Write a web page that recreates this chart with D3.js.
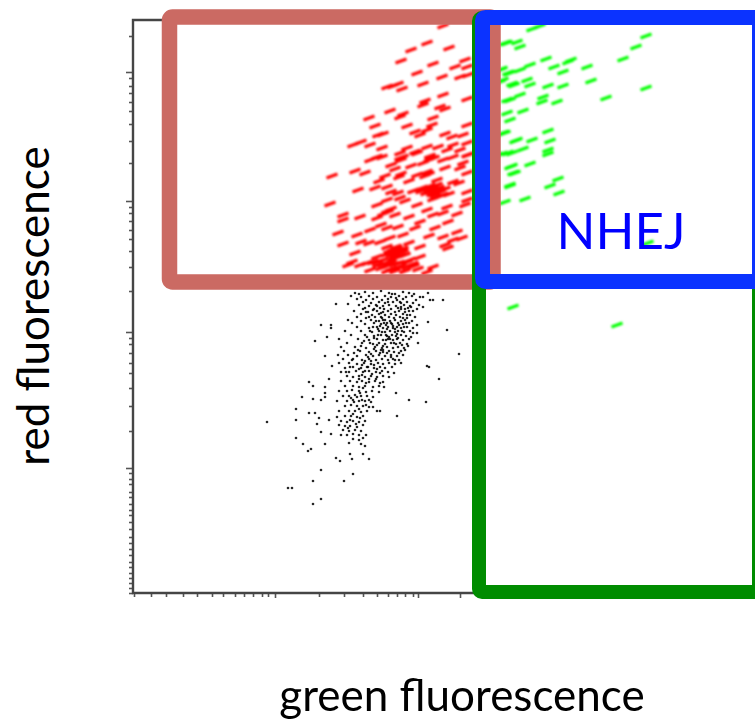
<!DOCTYPE html>
<html>
<head>
<meta charset="utf-8">
<script src="https://cdn.jsdelivr.net/npm/d3@7"></script>
<style>
    html, body { margin: 0; padding: 0; background: #fff; }
    svg { display: block; }
    text { font-family: Lato, "Open Sans", sans-serif; }
</style>
</head>
<body>
<div id="chart"></div>
<script>
// values are cytometer channels
const xTicksMinor = [1, 18, 33, 50, 64, 79, 90, 102, 111, 120, 129, 135, 186, 211, 230, 244, 255, 264, 272, 280];
const xTicksMajor = [142, 285, 327];
const yTicksMinor = [557, 515, 507, 500, 491, 482, 469, 452, 430, 386, 380, 372, 363, 354, 342, 326, 302,
    255, 249, 240, 230, 220, 205, 187, 162, 120, 114, 109, 101, 96, 89, 83, 78, 71, 64, 56, 50, 44, 38, 31, 26, 20, 15, 10, 5, 0];
const yTicksMajor = [521, 392, 261, 125];

const gateRed = [36.5, 360, 311, 576];
const gateGreen = [346, 626, 1, 575];
const gateBlue = [349.5, 626.5, 311.5, 575.5];

const redEvents = [
    [310, 567], [294, 550], [278, 543], [316, 545], [268, 532], [300, 529], [284, 520], [322, 526], [332, 533], [334, 526],
    [309, 516], [290, 509], [327, 516], [335, 518], [254, 506], [260, 507], [265, 509], [269, 504], [310, 498], [292, 492],
    [290, 488], [334, 494], [307, 486], [312, 484], [257, 482], [270, 479], [267, 476], [236, 475], [300, 475], [242, 467],
    [274, 467], [299, 468], [294, 463], [334, 468], [245, 458], [250, 459], [282, 461], [287, 458], [312, 459], [319, 456],
    [330, 458], [220, 448], [228, 451], [237, 448], [249, 445], [294, 446], [305, 446], [320, 448], [334, 450], [282, 441],
    [314, 443], [327, 443], [244, 436], [267, 440], [267, 435], [297, 437], [335, 438], [320, 436], [199, 417], [222, 422],
    [232, 420], [237, 433], [249, 436], [284, 440], [297, 436], [310, 433], [334, 438], [252, 417], [266, 416], [284, 418],
    [294, 421], [312, 425], [327, 425], [334, 420], [225, 403], [242, 405], [254, 406], [265, 400], [289, 405], [304, 413],
    [320, 411], [334, 401], [302, 400], [294, 405], [310, 398], [307, 401], [305, 396], [197, 389], [244, 388], [254, 393],
    [267, 395], [284, 388], [294, 383], [314, 386], [334, 393], [332, 388], [210, 378], [210, 373], [227, 376], [244, 375],
    [255, 381], [262, 378], [287, 371], [315, 371], [302, 365], [205, 360], [224, 358], [237, 363], [254, 365], [265, 366],
    [282, 365], [324, 361], [310, 356], [210, 349], [228, 351], [247, 351], [257, 355], [287, 346], [320, 353], [312, 348],
    [329, 355], [315, 345], [264, 345], [254, 346], [270, 341], [262, 340], [244, 336], [287, 336], [219, 331], [234, 330],
    [215, 328], [227, 328], [250, 333], [265, 336], [277, 333], [245, 328], [265, 325], [274, 326], [300, 326], [237, 323],
    [254, 322], [294, 321], [258, 342], [268, 343], [260, 334], [272, 338], [240, 331], [256, 329], [280, 329], [248, 325],
    [262, 322], [285, 324], [272, 322], [304, 408], [298, 402], [312, 404], [300, 394], [316, 399], [276, 412], [262, 424],
    [278, 427], [246, 412], [258, 401], [272, 392], [280, 402], [326, 410], [330, 430], [290, 430], [274, 445], [258, 428],
    [300, 378], [310, 380], [324, 379], [276, 376], [270, 358], [296, 357], [248, 368], [236, 350], [222, 340], [276, 350],
    // thick clumps
    [296, 403], [300, 405], [303, 402], [299, 399], [306, 405], [293, 400], [297, 407], [302, 398], [309, 403], [288, 402],
    [260, 344], [263, 342], [258, 339], [266, 340], [261, 337], [256, 342], [268, 337], [263, 346], [254, 339], [270, 344],
    [258, 331], [262, 329], [250, 329], [254, 327], [266, 330], [268, 327], [244, 331], [274, 331], [258, 324], [281, 327],
    [254, 382], [258, 384], [250, 379], [268, 433], [270, 436], [301, 435], [296, 433], [292, 417], [296, 419], [268, 419]
];

const greenEvents = [
    [399, 564], [407, 567], [372, 550], [384, 551], [387, 546], [513, 557], [503, 546], [490, 534], [413, 534], [438, 533],
    [435, 531], [421, 526], [454, 526], [430, 521], [397, 528], [387, 523], [375, 520], [369, 524], [370, 513], [379, 509],
    [381, 508], [394, 513], [397, 508], [415, 507], [430, 507], [458, 512], [513, 505], [473, 495], [410, 496], [409, 491],
    [424, 491], [387, 498], [374, 493], [390, 482], [374, 480], [377, 473], [415, 462], [372, 460], [382, 452], [399, 453],
    [417, 452], [390, 444], [379, 440], [415, 443], [415, 439], [369, 439], [397, 429], [379, 427], [382, 420], [377, 407],
    [417, 407], [425, 414], [426, 400], [372, 391], [392, 394], [374, 550], [367, 523], [377, 520], [367, 511], [377, 493],
    [370, 460], [384, 453], [364, 438], [375, 440], [377, 426], [380, 420], [377, 408], [380, 286], [484, 268], [515, 350]
];

const blackEvents = [
    [134, 171], [155, 105], [159, 105], [180, 89], [188, 94], [180, 112], [211, 112], [220, 119], [188, 123], [203, 135],
    [207, 132], [219, 134], [217, 139], [230, 139], [236, 134], [175, 142], [178, 144], [170, 149], [163, 155], [192, 149],
    [163, 173], [163, 184], [169, 196], [176, 180], [182, 180], [186, 175], [184, 169], [196, 173], [188, 161], [198, 159],
    [180, 194], [188, 193], [176, 211], [180, 207], [192, 206], [196, 214], [192, 200], [192, 196], [199, 227], [192, 237],
    [182, 252], [194, 256], [188, 268], [198, 268], [198, 265], [203, 289], [215, 289], [326, 239], [314, 263], [310, 293],
    [295, 271], [294, 227], [296, 226], [306, 214], [293, 191], [276, 193], [264, 177], [263, 200], [285, 250], [280, 260],
    [284, 260], [295, 300], [297, 293], [300, 293], [290, 286], [290, 296], [244, 182], [247, 182],
    [222, 300], [226, 299], [232, 301], [240, 300], [248, 302], [256, 300], [262, 299], [270, 301], [276, 300], [281, 299],
    [218, 297], [228, 296], [236, 297], [244, 296], [252, 297], [258, 296], [266, 297], [273, 296], [279, 297], [287, 296],
    [224, 294], [233, 293], [240, 294], [249, 293], [255, 294], [264, 293], [270, 294], [283, 293], [230, 291], [238, 290],
    [246, 291], [252, 290], [260, 291], [268, 290], [274, 291], [280, 290], [226, 288], [236, 287], [243, 288], [250, 287],
    [256, 288], [263, 287], [271, 288], [277, 287], [286, 288], [232, 285], [241, 284], [247, 285], [258, 284], [265, 285],
    [268, 284], [275, 285], [284, 284], [221, 282], [235, 281], [244, 282], [250, 281], [255, 282], [262, 281], [266, 282],
    [272, 281], [280, 282], [228, 279], [239, 278], [246, 279], [252, 278], [258, 279], [263, 278], [270, 279], [277, 278],
    [224, 276], [233, 275], [242, 276], [249, 275], [256, 276], [261, 275], [267, 276], [274, 275], [282, 276], [215, 273],
    [228, 272], [238, 273], [246, 272], [252, 273], [257, 272], [262, 273], [268, 272], [272, 273], [279, 272], [219, 270],
    [232, 269], [241, 270], [248, 269], [254, 270], [259, 269], [265, 270], [270, 269], [276, 270], [284, 268], [224, 266],
    [236, 265], [244, 266], [250, 265], [255, 266], [260, 265], [264, 266], [268, 265], [274, 266], [280, 265], [212, 262],
    [228, 262], [239, 261], [246, 262], [252, 261], [257, 262], [262, 261], [265, 262], [271, 261], [277, 262], [218, 258],
    [232, 258], [241, 257], [248, 258], [254, 257], [259, 258], [263, 257], [268, 258], [273, 257], [206, 254], [225, 254],
    [236, 253], [244, 254], [250, 253], [255, 254], [260, 253], [264, 254], [270, 253], [276, 254], [214, 250], [229, 250],
    [240, 249], [246, 250], [252, 249], [258, 250], [263, 249], [267, 250], [274, 249], [208, 246], [222, 246], [233, 245],
    [242, 246], [249, 245], [254, 246], [260, 245], [265, 246], [271, 245], [211, 242], [227, 242], [236, 241], [243, 242],
    [250, 241], [256, 242], [261, 241], [268, 242], [205, 238], [215, 238], [224, 237], [233, 238], [240, 237], [246, 238],
    [252, 237], [258, 238], [264, 237], [270, 238], [210, 234], [220, 234], [229, 233], [236, 234], [243, 233], [249, 234],
    [255, 233], [260, 234], [266, 233], [206, 230], [216, 230], [224, 229], [231, 230], [238, 229], [245, 230], [250, 229],
    [256, 230], [262, 229], [268, 230], [212, 225], [220, 226], [228, 225], [234, 226], [241, 225], [247, 226], [252, 225],
    [259, 226], [208, 221], [216, 221], [223, 222], [230, 221], [236, 222], [243, 221], [249, 222], [255, 221], [261, 220],
    [214, 217], [220, 216], [226, 217], [232, 216], [238, 217], [244, 216], [250, 217], [256, 216], [208, 212], [217, 212],
    [224, 211], [229, 212], [236, 211], [242, 212], [250, 211], [212, 207], [220, 207], [226, 206], [232, 207], [240, 206],
    [246, 207], [251, 206], [206, 202], [214, 202], [219, 203], [226, 202], [233, 201], [239, 202], [246, 201], [210, 197],
    [216, 197], [222, 198], [228, 197], [234, 197], [240, 196], [204, 192], [214, 192], [220, 193], [226, 192], [232, 192],
    [238, 191], [212, 187], [218, 188], [224, 187], [230, 187], [236, 186], [206, 182], [216, 182], [222, 182], [228, 181],
    [234, 182], [204, 176], [212, 177], [218, 177], [224, 176], [230, 177], [208, 172], [214, 171], [220, 172], [226, 171],
    [232, 172], [206, 168], [212, 167], [217, 167], [224, 166], [230, 168], [210, 163], [216, 162], [222, 163], [228, 162],
    [208, 158], [214, 158], [220, 159], [226, 158], [233, 158], [220, 154], [226, 153], [230, 155], [216, 150], [228, 149], [232, 147],
    // dark knots in the core
    [248, 276], [250, 273], [251, 270], [253, 268], [254, 264], [247, 267], [245, 264], [258, 270], [260, 267], [262, 264],
    [266, 268], [269, 262], [271, 266], [273, 270], [264, 259], [256, 256], [253, 253], [250, 247], [248, 243], [247, 240],
    [244, 248], [241, 244], [238, 239], [235, 236], [232, 232], [229, 228], [226, 224], [238, 232], [241, 228], [244, 224],
    [247, 220], [235, 226], [232, 222], [229, 218], [226, 214], [250, 243], [254, 240], [258, 236], [262, 233], [266, 240],
    [239, 219], [236, 214], [233, 210], [230, 205], [227, 200], [243, 214], [247, 210], [224, 196], [221, 191], [218, 195],
    [229, 193], [233, 188], [236, 193], [240, 186], [226, 184], [220, 179], [217, 173], [223, 169], [227, 175], [215, 165],
    [268, 286], [272, 284], [276, 282], [278, 286], [274, 278], [270, 275], [267, 291], [263, 295], [259, 299], [255, 291],
    [251, 284], [248, 280], [244, 287], [240, 283], [236, 276], [233, 281], [230, 284], [243, 272], [240, 266], [237, 262],
    [234, 256], [231, 252], [228, 247], [225, 243], [221, 240], [219, 233], [217, 226], [213, 221], [237, 250], [241, 255],
    [245, 258], [249, 261], [253, 258], [257, 254], [261, 250], [265, 255], [269, 248], [272, 243], [275, 247], [278, 256]
];

const margin = { left: 133, right: 0, top: 20, bottom: 126 };
const width = 755;
const height = 719;

const x = d3.scaleLinear().domain([0, 622]).range([margin.left, width]);
const y = d3.scaleLinear().domain([0, 573]).range([height - margin.bottom, margin.top]);

const svg = d3.select('#chart').append('svg')
    .attr('width', width)
    .attr('height', height);

const defs = svg.append('defs');
defs.append('filter').attr('id', 'soft').append('feGaussianBlur').attr('stdDeviation', 0.8);
defs.append('filter').attr('id', 'softer').append('feGaussianBlur').attr('stdDeviation', 0.55);

// frame and ticks of the cytometer plot
const axes = svg.append('g').attr('filter', 'url(#softer)');

function styleAxis(g) {
    g.select('.domain').remove();
    g.selectAll('line').attr('stroke', '#555').attr('stroke-width', 1.6);
}

axes.append('g')
    .attr('transform', `translate(${margin.left},0)`)
    .call(d3.axisLeft(y).tickValues(yTicksMinor).tickSize(4).tickFormat(''))
    .call(styleAxis);
axes.append('g')
    .attr('transform', `translate(${margin.left},0)`)
    .call(d3.axisLeft(y).tickValues(yTicksMajor).tickSize(7).tickFormat(''))
    .call(styleAxis);
axes.append('g')
    .attr('transform', `translate(0,${y(0)})`)
    .call(d3.axisBottom(x).tickValues(xTicksMinor).tickSize(4).tickFormat(''))
    .call(styleAxis);
axes.append('g')
    .attr('transform', `translate(0,${y(0)})`)
    .call(d3.axisBottom(x).tickValues(xTicksMajor).tickSize(5).tickFormat(''))
    .call(styleAxis);

axes.append('path')
    .attr('d', d3.line()([[x(60), y(573)], [x(0), y(573)], [x(0), y(0)], [x(400), y(0)]]))
    .attr('fill', 'none')
    .attr('stroke', '#444')
    .attr('stroke-width', 2.4);

// events
svg.append('g')
    .attr('filter', 'url(#softer)')
    .selectAll('circle')
    .data(blackEvents)
    .enter()
    .append('circle')
    .attr('cx', d => x(d[0]))
    .attr('cy', d => y(d[1]))
    .attr('r', 1.3)
    .attr('fill', '#000')
    .attr('opacity', 0.85);

function drawDashes(data, color) {
    svg.append('g')
        .attr('filter', 'url(#soft)')
        .selectAll('line')
        .data(data)
        .enter()
        .append('line')
        .attr('x1', d => x(d[0]) - 5.5)
        .attr('y1', d => y(d[1]) + 2)
        .attr('x2', d => x(d[0]) + 5.5)
        .attr('y2', d => y(d[1]) - 2)
        .attr('stroke', color)
        .attr('stroke-width', 3.2);
}

drawDashes(redEvents, '#ff0000');
drawDashes(greenEvents, '#00ff00');

// gates
function drawGate(gate, color, strokeWidth) {
    svg.append('rect')
        .attr('x', x(gate[0]))
        .attr('y', y(gate[3]))
        .attr('width', x(gate[1]) - x(gate[0]))
        .attr('height', y(gate[2]) - y(gate[3]))
        .attr('rx', 3)
        .attr('fill', 'none')
        .attr('stroke', color)
        .attr('stroke-width', strokeWidth);
}

drawGate(gateRed, '#cb6a63', 15.5);
drawGate(gateGreen, '#008c00', 14);
drawGate(gateBlue, '#0b33ff', 15);

svg.append('text')
    .attr('x', 621)
    .attr('y', 249)
    .attr('text-anchor', 'middle')
    .attr('font-size', 51)
    .attr('fill', '#0000ff')
    .text('NHEJ');

svg.append('text')
    .attr('x', 462)
    .attr('y', 711)
    .attr('text-anchor', 'middle')
    .attr('font-size', 44)
    .attr('fill', '#000')
    .text('green fluorescence');

svg.append('text')
    .attr('transform', 'translate(49,306) rotate(-90)')
    .attr('text-anchor', 'middle')
    .attr('font-size', 44)
    .attr('fill', '#000')
    .text('red fluorescence');
</script>
</body>
</html>
